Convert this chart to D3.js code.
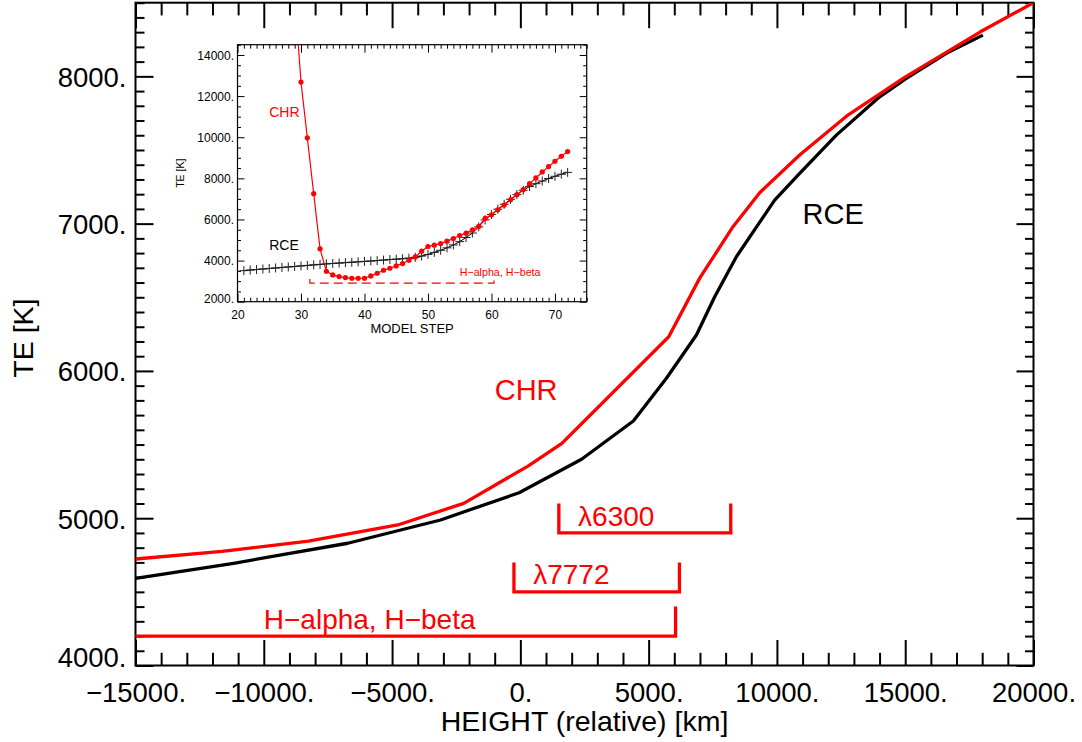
<!DOCTYPE html>
<html>
<head>
<meta charset="utf-8">
<script src="https://cdn.jsdelivr.net/npm/d3@7"></script>
<style>
  html, body { margin: 0; padding: 0; background: #fff; }
  svg { display: block; }
  text { font-family: "Liberation Sans", Arial, Helvetica, sans-serif; }
</style>
</head>
<body>
<svg id="chart" width="1082" height="742"></svg>
<script>
// ---------------- DATA ----------------
// Main plot: temperature vs relative height
const chrHeight = [-15000, -11626, -8257, -4778, -2207, 298, 1619, 5783, 6990, 8288, 9328, 10886, 12768, 14976, 17898, 20000];
const chrTemp   = [4723, 4775, 4845, 4954, 5101, 5354, 5508, 6232, 6630, 6979, 7210, 7466, 7737, 7993, 8299, 8500];

const rceHeight = [-15000, -11178, -6726, -3111, -49, 2386, 4404, 5693, 6862, 7575, 8420, 9912, 10886, 12315, 14003, 15043, 16601, 18027];
const rceTemp   = [4592, 4694, 4830, 4988, 5173, 5400, 5660, 5950, 6244, 6504, 6775, 7160, 7341, 7601, 7861, 7986, 8156, 8280];

// Formation-height ranges of the lines
const rangeNames  = ["λ6300", "λ7772", "H\u2212alpha, H\u2212beta"];
const rangeStart  = [1500, -250, -16000];
const rangeEnd    = [8200, 6200, 6050];
const rangeLevel  = [4900, 4500, 4200];
const rangeLabelH = [2250, 500, -10000];
const rangeLabelT = [4950, 4550, 4250];

// Main annotations
const mainLabels  = ["CHR", "RCE"];
const mainLabelH  = [-1000, 11000];
const mainLabelT  = [5800, 7000];

// Main axis ticks
const xMajor = [-15000, -10000, -5000, 0, 5000, 10000, 15000, 20000];
const yMajor = [4000, 5000, 6000, 7000, 8000];

// Inset: temperature vs model step
const chrStep = [29, 30, 31, 32, 33, 34, 35, 36, 37, 38, 39, 40, 41, 42, 43, 44, 45, 46, 47, 48, 49, 50,
                 51, 52, 53, 54, 55, 56, 57, 58, 59, 60, 61, 62, 63, 64, 65, 66, 67, 68, 69, 70, 71, 72];
const chrStepTemp = [16900, 12684, 9969, 7254, 4571, 3481, 3302, 3221, 3172, 3140, 3140, 3140, 3254, 3384, 3530, 3628,
                 3741, 3855, 4018, 4180, 4457, 4684, 4750, 4831, 4945, 5075, 5221, 5335, 5498, 5660, 6050, 6229,
                 6473, 6701, 6961, 7205, 7449, 7741, 8018, 8311, 8571, 8831, 9075, 9302];
const rceStep = [21, 22, 23, 24, 25, 26, 27, 28, 29, 30, 31, 32, 33, 34, 35, 36, 37, 38, 39, 40, 41, 42, 43, 44, 45, 46,
                 47, 48, 49, 50, 51, 52, 53, 54, 55, 56, 57, 58, 59, 60, 61, 62, 63, 64, 65, 66, 67, 68, 69, 70, 71, 72];
const rceStepTemp = [3510, 3540, 3565, 3590, 3615, 3640, 3665, 3690, 3715, 3740, 3765, 3790, 3815, 3840, 3860, 3880,
                 3900, 3920, 3940, 3960, 3980, 4000, 4025, 4050, 4070, 4090, 4120, 4160, 4220, 4300, 4400, 4500,
                 4620, 4760, 4920, 5120, 5340, 5640, 5980, 6240, 6500, 6740, 6980, 7210, 7420, 7600, 7740, 7870,
                 7990, 8100, 8200, 8290];
const insetRange = {name: "H\u2212alpha, H\u2212beta", start: 31.4, end: 60.4, level: 2900, labelStep: 55, labelT: 3250};
const insetLabels = ["CHR", "RCE"];
const insetLabelStep = [25, 25];
const insetLabelT = [11000, 4500];
const insetXMajor = [20, 30, 40, 50, 60, 70];
const insetYMajor = [2000, 4000, 6000, 8000, 10000, 12000, 14000];

// ---------------- DRAWING ----------------
const RED = "#ff0000";
const svg = d3.select("#chart");
const fmt = d => (d < 0 ? "\u2212" : "") + Math.abs(d) + ".";

// ----- main plot -----
const L = 135.5, R = 1033.5, T = 2.7, B = 665.5;
const x = d3.scaleLinear().domain([-15000, 20000]).range([L, R]);
const y = d3.scaleLinear().domain([4000, 8500]).range([B, T]);

svg.append("defs").append("clipPath").attr("id", "clipMain")
  .append("rect").attr("x", L).attr("y", T).attr("width", R - L).attr("height", B - T);

const xMinor = d3.range(-15000, 20001, 1000).filter(v => !xMajor.includes(v));
const yMinor = d3.range(4000, 8501, 100).filter(v => !yMajor.includes(v));

function axisGroup(axis, tx, ty, cls) {
  const g = svg.append("g").attr("class", cls).attr("transform", `translate(${tx},${ty})`).call(axis);
  g.select(".domain").remove();
  return g;
}
const mainTickStyle = g => g.selectAll("line").attr("stroke", "#000").attr("stroke-width", 2);

// bottom
axisGroup(d3.axisBottom(x).tickValues(xMinor).tickSize(-12.7).tickFormat(""), 0, B, "mx").call(mainTickStyle);
const xb = axisGroup(d3.axisBottom(x).tickValues(xMajor).tickSize(-25.5).tickPadding(17).tickFormat(fmt), 0, B, "mx").call(mainTickStyle);
xb.selectAll("text").attr("font-size", 27.5).attr("fill", "#000");
// top
axisGroup(d3.axisTop(x).tickValues(xMinor).tickSize(-12.7).tickFormat(""), 0, T, "mx").call(mainTickStyle);
axisGroup(d3.axisTop(x).tickValues(xMajor).tickSize(-25.5).tickFormat(""), 0, T, "mx").call(mainTickStyle);
// left
axisGroup(d3.axisLeft(y).tickValues(yMinor).tickSize(-9).tickFormat(""), L, 0, "my").call(mainTickStyle);
const yl = axisGroup(d3.axisLeft(y).tickValues(yMajor).tickSize(-18).tickPadding(9).tickFormat(fmt), L, 0, "my").call(mainTickStyle);
yl.selectAll("text").attr("font-size", 27.5).attr("fill", "#000")
  .attr("dy", d => d === 4000 ? "0.03em" : "0.36em");
// right
axisGroup(d3.axisRight(y).tickValues(yMinor).tickSize(-8.5).tickFormat(""), R, 0, "my").call(mainTickStyle);
axisGroup(d3.axisRight(y).tickValues(yMajor).tickSize(-17).tickFormat(""), R, 0, "my").call(mainTickStyle);

svg.append("rect").attr("x", L).attr("y", T).attr("width", R - L).attr("height", B - T)
  .attr("fill", "none").attr("stroke", "#000").attr("stroke-width", 2);

// axis titles
svg.append("text").attr("x", (L + R) / 2).attr("y", 731).attr("text-anchor", "middle")
  .attr("font-size", 28.5).text("HEIGHT (relative) [km]");
svg.append("text").attr("transform", `translate(33,${(T + B) / 2 + 4}) rotate(-90)`).attr("text-anchor", "middle")
  .attr("font-size", 28.5).text("TE [K]");

// curves
const line = d3.line().x(d => x(d[0])).y(d => y(d[1]));
const plotG = svg.append("g").attr("clip-path", "url(#clipMain)");
plotG.append("path").datum(rceHeight.map((h, i) => [h, rceTemp[i]]))
  .attr("d", line).attr("fill", "none").attr("stroke", "#000").attr("stroke-width", 3.3).attr("stroke-linejoin", "round");
plotG.append("path").datum(chrHeight.map((h, i) => [h, chrTemp[i]]))
  .attr("d", line).attr("fill", "none").attr("stroke", RED).attr("stroke-width", 3.3).attr("stroke-linejoin", "round");

// ranges
rangeNames.forEach((name, i) => {
  const x0 = x(rangeStart[i]), x1 = x(rangeEnd[i]), yl0 = y(rangeLevel[i]), yt = y(rangeLevel[i] + 200);
  plotG.append("path").attr("d", `M${x0},${yt}V${yl0}H${x1}V${yt}`)
    .attr("fill", "none").attr("stroke", RED).attr("stroke-width", 3.3);
  svg.append("text").attr("x", x(rangeLabelH[i])).attr("y", y(rangeLabelT[i]))
    .attr("font-size", 28).attr("fill", RED).text(name);
});

mainLabels.forEach((t, i) => {
  svg.append("text").attr("x", x(mainLabelH[i])).attr("y", y(mainLabelT[i]))
    .attr("font-size", 29).attr("fill", i === 0 ? RED : "#000").text(t);
});

// ----- inset -----
const iL = 237.5, iR = 586.7, iT = 44.7, iB = 301.7;
const xi = d3.scaleLinear().domain([20, 75]).range([iL, iR]);
const yi = d3.scaleLinear().domain([2000, 14500]).range([iB, iT]);

svg.append("rect").attr("x", iL).attr("y", iT).attr("width", iR - iL).attr("height", iB - iT).attr("fill", "#fff");
svg.select("defs").append("clipPath").attr("id", "clipInset")
  .append("rect").attr("x", iL).attr("y", iT).attr("width", iR - iL).attr("height", iB - iT);

const ixMinor = d3.range(20, 76, 1).filter(v => !insetXMajor.includes(v));
const iyMinor = d3.range(2000, 14501, 500).filter(v => !insetYMajor.includes(v));
const insetTickStyle = g => g.selectAll("line").attr("stroke", "#000").attr("stroke-width", 1);

axisGroup(d3.axisBottom(xi).tickValues(ixMinor).tickSize(-4).tickFormat(""), 0, iB, "ix").call(insetTickStyle);
const ixb = axisGroup(d3.axisBottom(xi).tickValues(insetXMajor).tickSize(-8).tickPadding(8.5).tickFormat(d => d), 0, iB, "ix").call(insetTickStyle);
ixb.selectAll("text").attr("font-size", 12).attr("fill", "#000");
axisGroup(d3.axisTop(xi).tickValues(ixMinor).tickSize(-4).tickFormat(""), 0, iT, "ix").call(insetTickStyle);
axisGroup(d3.axisTop(xi).tickValues(insetXMajor).tickSize(-8).tickFormat(""), 0, iT, "ix").call(insetTickStyle);
axisGroup(d3.axisLeft(yi).tickValues(iyMinor).tickSize(-3.5).tickFormat(""), iL, 0, "iy").call(insetTickStyle);
const iyl = axisGroup(d3.axisLeft(yi).tickValues(insetYMajor).tickSize(-7).tickPadding(3.5).tickFormat(fmt), iL, 0, "iy").call(insetTickStyle);
iyl.selectAll("text").attr("font-size", 12).attr("fill", "#000")
  .attr("dy", d => d === 2000 ? "0.08em" : "0.36em");
axisGroup(d3.axisRight(yi).tickValues(iyMinor).tickSize(-3.5).tickFormat(""), iR, 0, "iy").call(insetTickStyle);
axisGroup(d3.axisRight(yi).tickValues(insetYMajor).tickSize(-7).tickFormat(""), iR, 0, "iy").call(insetTickStyle);

svg.append("rect").attr("x", iL).attr("y", iT).attr("width", iR - iL).attr("height", iB - iT)
  .attr("fill", "none").attr("stroke", "#000").attr("stroke-width", 1.2);

svg.append("text").attr("x", (iL + iR) / 2).attr("y", 333.3).attr("text-anchor", "middle")
  .attr("font-size", 13).text("MODEL STEP");
svg.append("text").attr("transform", `translate(184,${(iT + iB) / 2}) rotate(-90)`).attr("text-anchor", "middle")
  .attr("font-size", 10.5).text("TE [K]");

const insetG = svg.append("g").attr("clip-path", "url(#clipInset)");
const iline = d3.line().x(d => xi(d[0])).y(d => yi(d[1]));
const rceI = rceStep.map((s, i) => [s, rceStepTemp[i]]);
const chrI = chrStep.map((s, i) => [s, chrStepTemp[i]]);

insetG.append("path").datum(rceI).attr("d", iline).attr("fill", "none").attr("stroke", "#000").attr("stroke-width", 1);
insetG.selectAll("path.plus").data(rceI).join("path").attr("class", "plus")
  .attr("d", d => `M${xi(d[0]) - 4.5},${yi(d[1])}H${xi(d[0]) + 4.5}M${xi(d[0])},${yi(d[1]) - 4.5}V${yi(d[1]) + 4.5}`)
  .attr("stroke", "#222").attr("stroke-width", 1);

insetG.append("path").datum(chrI).attr("d", iline).attr("fill", "none").attr("stroke", RED).attr("stroke-width", 1.2);
insetG.selectAll("circle.dot").data(chrI).join("circle").attr("class", "dot")
  .attr("cx", d => xi(d[0])).attr("cy", d => yi(d[1])).attr("r", 2.6).attr("fill", RED);

// inset range bracket
{
  const x0 = xi(insetRange.start), x1 = xi(insetRange.end), yl0 = yi(insetRange.level), yt = yi(insetRange.level + 200);
  svg.append("path").attr("d", `M${x0},${yt}V${yl0}H${x1}V${yt}`)
    .attr("fill", "none").attr("stroke", RED).attr("stroke-width", 1.2).attr("stroke-dasharray", "9,5");
  svg.append("text").attr("x", xi(insetRange.labelStep)).attr("y", yi(insetRange.labelT))
    .attr("font-size", 10.7).attr("fill", RED).text(insetRange.name);
}

insetLabels.forEach((t, i) => {
  svg.append("text").attr("x", xi(insetLabelStep[i])).attr("y", yi(insetLabelT[i]))
    .attr("font-size", 14).attr("fill", i === 0 ? RED : "#000").text(t);
});
</script>
</body>
</html>
